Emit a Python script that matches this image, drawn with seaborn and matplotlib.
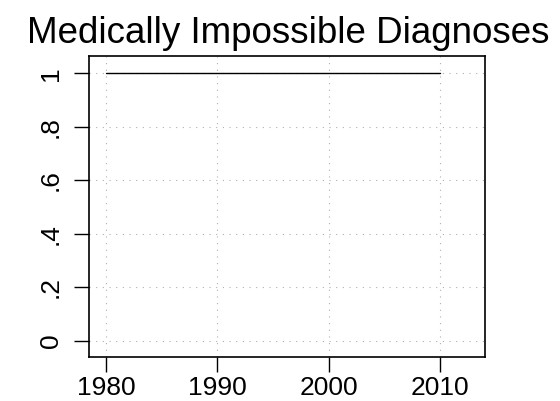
import numpy as np
import pandas as pd
import matplotlib
matplotlib.use("Agg")
import matplotlib.pyplot as plt
import seaborn as sns

# data
years = list(range(1980, 2011))
share = [1.0] * len(years)
xticks = [1980, 1990, 2000, 2010]
yticks = [0, 0.2, 0.4, 0.6, 0.8, 1.0]
ytick_labels = ["0", ".2", ".4", ".6", ".8", "1"]

df = pd.DataFrame({"year": years, "share": share})

sns.set_style("white")
plt.rcParams['font.family'] = ['Liberation Sans', 'DejaVu Sans']
plt.rcParams['text.color'] = 'black'
plt.rcParams['xtick.color'] = 'black'
plt.rcParams['ytick.color'] = 'black'

fig = plt.figure(figsize=(5.6, 4.01), dpi=100)
ax = fig.add_axes([89 / 560, 1 - 357 / 401, (485 - 89) / 560, (357 - 56) / 401])

sns.lineplot(data=df, x="year", y="share", ax=ax, color="black", linewidth=1.0)

ax.set_xlim(1978.47, 2014.04)
ax.set_ylim(-0.061, 1.065)
ax.set_xticks(xticks)
ax.set_xticklabels([str(x) for x in xticks])
ax.set_yticks(yticks)
ax.set_yticklabels(ytick_labels, rotation=90, va="center")
ax.set_xlabel("")
ax.set_ylabel("")
ax.grid(True, color="#b0b0b0", linestyle=(0, (1, 5)), linewidth=0.8)
for sp in ax.spines.values():
    sp.set_color("black")
    sp.set_linewidth(1.2)
ax.tick_params(axis="both", direction="out", length=11, width=1.0, color="black",
               labelsize=19, bottom=True, left=True)
ax.tick_params(axis="x", pad=3)
ax.tick_params(axis="y", pad=8)

fig.text(288 / 560, 1 - 43 / 401, "Medically Impossible Diagnoses",
         ha="center", va="baseline", fontsize=26.5, color="black")

fig.savefig("out.png", dpi=100)
